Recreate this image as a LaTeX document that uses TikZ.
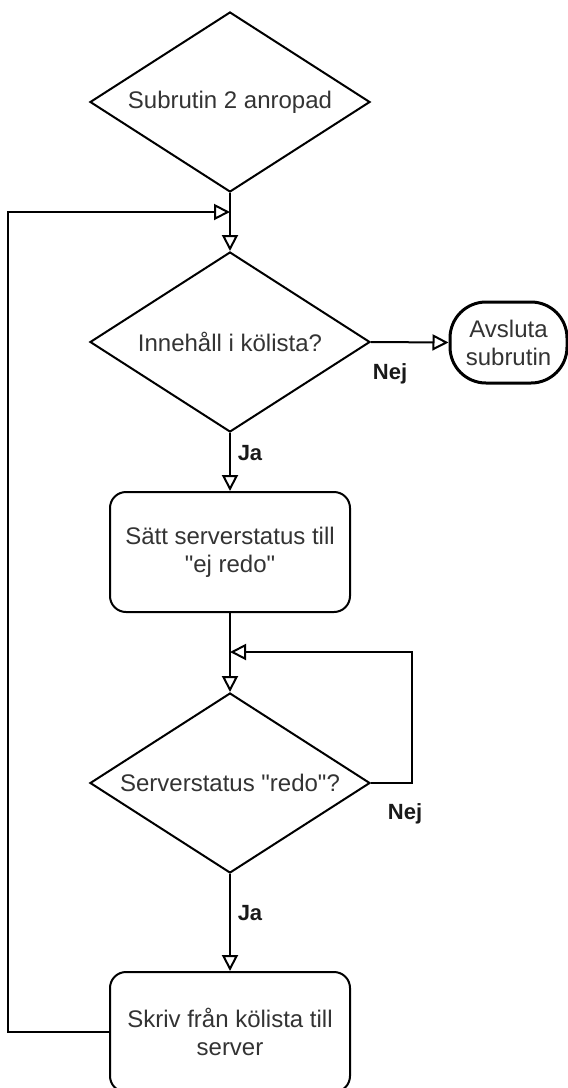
\documentclass[tikz,border=0pt]{standalone}
\usepackage{fontspec}
\setmainfont{Liberation Sans}[Ligatures=TeXOff]
\usetikzlibrary{shapes.geometric,arrows.meta}
\definecolor{txt}{HTML}{333333}
\begin{document}
\begin{tikzpicture}[x=0.5pt,y=-0.5pt,
  every node/.style={font=\fontsize{12}{14}\selectfont, text=txt},
  decision/.style={draw, line width=1pt, shape=diamond, aspect=1.55,
    minimum width=140pt, minimum height=90pt, inner sep=0pt},
  process/.style={draw, line width=1pt, rounded corners=8pt,
    minimum width=120pt, minimum height=60pt, align=center},
  terminal/.style={draw, line width=1.5pt, rounded corners=18pt,
    minimum width=58.5pt, minimum height=40.5pt, align=center},
  flow/.style={line width=1pt, -{Triangle[open, length=8pt, width=8pt]}},
  answer/.style={font=\bfseries\fontsize{11}{13}\selectfont, text=black!90}]

\useasboundingbox (0,0) rectangle (568,1088);

% flowchart nodes
\node[decision] (start) at (230,102) {Subrutin 2 anropad};
\node[decision] (queue) at (230,342) {Innehåll i kölista?};
\node[terminal] (done)  at (508.5,342.5) {Avsluta\\subrutin};
\node[process]  (busy)  at (230,552) {Sätt serverstatus till\\"ej redo"};
\node[decision] (ready) at (230,783) {Serverstatus "redo"?};
\node[process]  (write) at (230,1032) {Skriv från kölista till\\server};

% junction points where the loops rejoin the main line
\coordinate (j1) at (230,212);
\coordinate (j2) at (230,652);

% connectors
\draw[flow] (start.south) -- (queue.north);
\draw[flow] (queue.east) -- (done.west);
\draw[flow] (queue.south) -- (busy.north);
\draw[flow] (busy.south) -- (ready.north);
\draw[flow] (ready.south) -- (write.north);
\draw[flow] (ready.east) -- ++(41,0) |- (j2);
\draw[flow] (write.west) -- ++(-101,0) |- (j1);

% branch labels
\node[answer] (nej1) at (390,374) {Nej};
\node[answer] (ja1)  at (250,453) {Ja};
\node[answer] (nej2) at (405,814) {Nej};
\node[answer] (ja2)  at (250,913) {Ja};
\end{tikzpicture}
\end{document}
